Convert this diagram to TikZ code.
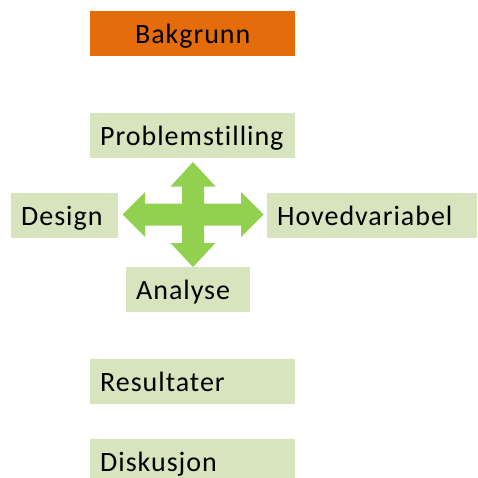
\documentclass[tikz,border=0pt]{standalone}
\usepackage{fontspec}
\setmainfont{Carlito}[LetterSpace=3.5, Ligatures=NoCommon]
\definecolor{boxgreen}{HTML}{D7E4BD}
\definecolor{orangebox}{HTML}{E46C0A}
\definecolor{arrowgreen}{HTML}{92D050}
\begin{document}
\begin{tikzpicture}[x=1pt,y=-1pt,
  box/.style={fill=boxgreen, draw=none, anchor=north west, inner xsep=10pt, inner ysep=0pt,
    minimum height=45pt, text height=32pt, text depth=13pt, align=left,
    font=\fontsize{28}{34}\selectfont},
]
\useasboundingbox (0,0) rectangle (477,478);
\clip (0,0) rectangle (477,478);
\node[box, fill=orangebox, align=center, text width=185pt] (bak) at (90,11) {Bakgrunn};
\node[box, text width=185pt] (prob) at (90,113) {Problemstilling};
\node[box, text width=87pt] (design) at (11,193) {Design};
\node[box, text width=190pt] (hoved) at (267,193) {Hovedvariabel};
\node[box, text width=104pt] (analyse) at (126,267) {Analyse};
\node[box, text width=185pt] (result) at (90,359) {Resultater};
\node[box, text width=185pt] (disk) at (90,439) {Diskusjon};
\fill[arrowgreen] (193,162) -- (215.5,186.5) -- (204,186.5) -- (204,203.5) -- (241,203.5) -- (241,192)
  -- (263.5,214.5) -- (241,237) -- (241,225.5) -- (204,225.5) -- (204,243) -- (215.5,243)
  -- (193,267) -- (170.5,243) -- (182,243) -- (182,225.5) -- (145,225.5) -- (145,237)
  -- (122.5,214.5) -- (145,192) -- (145,203.5) -- (182,203.5) -- (182,186.5) -- (170.5,186.5) -- cycle;
\end{tikzpicture}
\end{document}
